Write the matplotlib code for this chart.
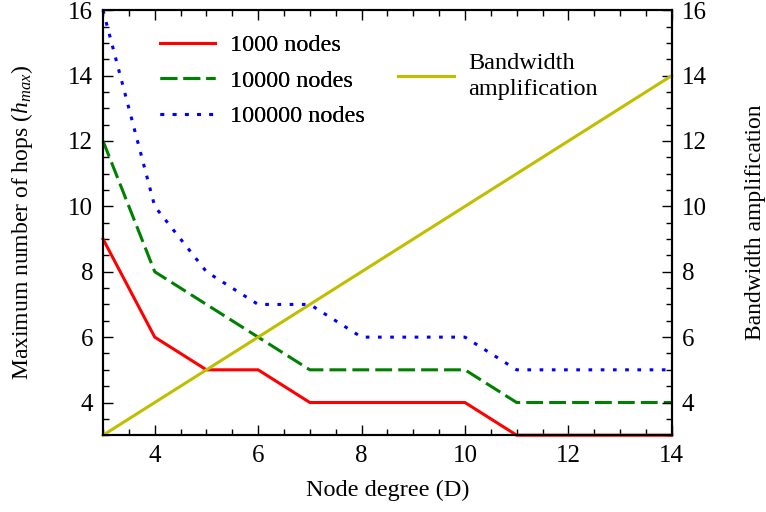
import matplotlib
matplotlib.use("Agg")
import matplotlib.pyplot as plt
from matplotlib.ticker import MultipleLocator

plt.rcParams['font.family'] = ['Liberation Serif', 'DejaVu Serif']
plt.rcParams['mathtext.fontset'] = 'custom'
plt.rcParams['mathtext.rm'] = 'Liberation Serif'
plt.rcParams['mathtext.it'] = 'Liberation Serif:italic'

degree = [3, 4, 5, 6, 7, 8, 9, 10, 11, 12, 13, 14]
hops_1000 = [9, 6, 5, 5, 4, 4, 4, 4, 3, 3, 3, 3]
hops_10000 = [12, 8, 7, 6, 5, 5, 5, 5, 4, 4, 4, 4]
hops_100000 = [16, 10, 8, 7, 7, 6, 6, 6, 5, 5, 5, 5]
bandwidth = [3, 4, 5, 6, 7, 8, 9, 10, 11, 12, 13, 14]

fig = plt.figure(figsize=(7.66, 5.12), dpi=100)
ax = fig.add_axes([0.1345, 0.150, 0.877 - 0.1345, 0.980 - 0.150])
ax2 = ax.twinx()

l1, = ax.plot(degree, hops_1000, color='#ff0000', lw=2.2, ls='-', label='1000 nodes', clip_on=False, zorder=3)
l2, = ax.plot(degree, hops_10000, color='#008000', lw=2.2, ls=(0, (5.5, 2)), label='10000 nodes', clip_on=False)
l3, = ax.plot(degree, hops_100000, color='#0000ff', lw=2.2, ls=(0, (1.2, 2.8)), label='100000 nodes', clip_on=False)
l4, = ax2.plot(degree, bandwidth, color='#bfbf00', lw=2.2, ls='-', label='Bandwidth\namplification', clip_on=False)

for a in (ax, ax2):
    a.set_xlim(3, 14)
    a.set_ylim(3, 16)
    a.yaxis.set_major_locator(MultipleLocator(2))
    a.yaxis.set_minor_locator(MultipleLocator(0.5))
    a.xaxis.set_major_locator(MultipleLocator(2))
    a.xaxis.set_minor_locator(MultipleLocator(0.5))
    a.tick_params(which='both', direction='in', labelsize=18, width=1)
    a.tick_params(which='major', length=7)
    a.tick_params(which='minor', length=4)

ax.tick_params(which='both', top=True, right=False, pad=7)
ax2.tick_params(which='both', left=False, right=True, pad=7)

ax.set_xlabel('Node degree (D)', fontsize=17.5, labelpad=9)
ax.set_ylabel(r'Maximum number of hops ($h_{max}$)', fontsize=17, labelpad=24)
ax2.set_ylabel('Bandwidth amplification', fontsize=17, labelpad=28)

for a in (ax, ax2):
    for s in a.spines.values():
        s.set_linewidth(1.5)

legprop = {'family': ['Liberation Serif'], 'size': 17.5}
leg1 = ax.legend(handles=[l1, l2, l3], loc='upper left', bbox_to_anchor=(0.061, 0.995),
                 frameon=False, prop=legprop, handlelength=2.3, handletextpad=0.6,
                 labelspacing=0.55)
ax.add_artist(leg1)
leg2 = ax2.legend(handles=[l4], loc='upper left', bbox_to_anchor=(0.48, 0.95),
                  frameon=False, prop=legprop, handlelength=2.3, handletextpad=0.6)
for t in leg2.get_texts():
    t.set_linespacing(1.3)

fig.savefig('out.png', dpi=100)
